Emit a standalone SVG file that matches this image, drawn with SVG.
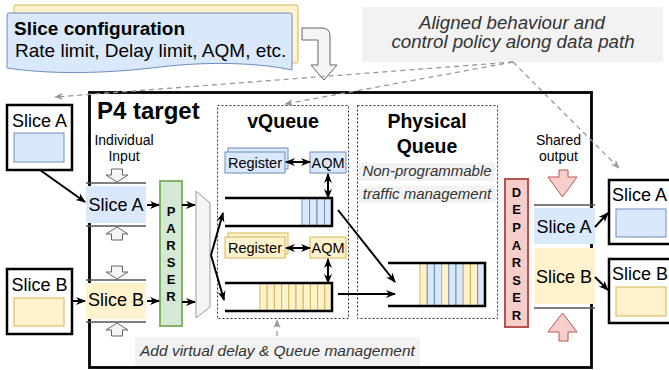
<svg xmlns="http://www.w3.org/2000/svg" width="669" height="370" viewBox="0 0 669 370">
<style>
text{font-family:"Liberation Sans",Arial,Helvetica,sans-serif;fill:#000}
.b{font-weight:bold}
.it{font-style:italic;fill:#333}
.c{text-anchor:middle}
.blue{fill:#dae8fc;stroke:#6c8ebf;stroke-width:1}
.yel{fill:#fff2cc;stroke:#d6b656;stroke-width:1}
.bluef{fill:#dae8fc}
.yelf{fill:#fff2cc}
.ext{fill:#fff;stroke:#000;stroke-width:2.5}
.ln{stroke:#000;stroke-width:2;fill:none}
.sep{stroke:#555;stroke-width:1.5}
.garr{fill:#f5f5f5;stroke:#666;stroke-width:1}
.rarr{fill:#f8cecc;stroke:#b85450;stroke-width:1}
.dash{stroke:#999;stroke-width:1.3;stroke-dasharray:5 4;fill:none}
.box{fill:none;stroke:#333;stroke-width:1;stroke-dasharray:2 2}
.q{fill:none;stroke:#000;stroke-width:2.5}
.lbl{fill:#f2f2f2}
</style>
<defs>
<marker id="ah" viewBox="0 0 10 10" refX="9" refY="5" markerWidth="10" markerHeight="10" markerUnits="userSpaceOnUse" orient="auto-start-reverse"><path d="M0,1 L10,5 L0,9 L3,5 z" fill="#000"/></marker>
<marker id="gh" viewBox="0 0 10 10" refX="9" refY="5" markerWidth="9" markerHeight="9" markerUnits="userSpaceOnUse" orient="auto"><path d="M0,1 L10,5 L0,9 L3,5 z" fill="#999"/></marker>
<path id="gdn" d="M-5.5,0 H5.5 V6 H11 L0,13 L-11,6 H-5.5 Z"/>
<path id="gup" d="M-5.5,13 H5.5 V7 H11 L0,0 L-11,7 H-5.5 Z"/>
</defs>

<g id="slice-config">
<rect x="14" y="5" width="284" height="58" rx="2" class="yel"/>
<path d="M9,13 H290 Q292,13 292,15 V70 C260,63 210,61 160,67 C120,72 60,76 7,68 V15 Q7,13 9,13 Z" class="blue"/>
<text x="14" y="35" class="b" font-size="19">Slice configuration</text>
<text x="15" y="57" font-size="19">Rate limit, Delay limit, AQM, etc.</text>
</g>
<g id="config-arrow">
<path d="M302,28 H322 Q330,28 330,36 V65 H337 L324,80 L311,65 H318 V40 H302 Z" class="garr"/>
</g>

<g id="aligned-label">
<rect x="362" y="7" width="301" height="55" class="lbl"/>
<text x="512" y="29" class="it c" font-size="18.7">Aligned behaviour and</text>
<text x="513" y="48" class="it c" font-size="18.7">control policy along data path</text>
</g>

<g id="p4-target">
<rect x="89.5" y="92.5" width="502" height="275" fill="#fff" stroke="#000" stroke-width="2.8"/>
<text x="97" y="119" class="b" font-size="24">P4 target</text>
<text x="124" y="145" class="c" font-size="14">Individual</text>
<text x="124" y="161" class="c" font-size="14">Input</text>
<text x="558.5" y="145" class="c" font-size="14">Shared</text>
<text x="558.5" y="161" class="c" font-size="14">output</text>
</g>

<g id="vqueue">
<rect x="217.5" y="105.5" width="131" height="213" class="box"/>
<text x="283" y="128" class="b c" font-size="19.5">vQueue</text>
</g>
<g id="physical-queue">
<rect x="357.5" y="105.5" width="140" height="213" class="box"/>
<text x="427" y="128" class="b c" font-size="19.5">Physical</text>
<text x="427" y="153" class="b c" font-size="19.5">Queue</text>
<rect x="359" y="163" width="136" height="18" class="lbl"/>
<rect x="359" y="186" width="136" height="17" class="lbl"/>
<text x="427" y="176" class="it c" font-size="15">Non-programmable</text>
<text x="427" y="199" class="it c" font-size="15">traffic management</text>
</g>

<g id="add-virtual-label">
<rect x="135" y="337" width="285" height="29" class="lbl"/>
<text x="140" y="356" class="it" font-size="15.5">Add virtual delay &amp; Queue management</text>
</g>

<g id="ext-slice-a-in">
<rect x="7" y="105" width="65" height="65" class="ext"/>
<text x="39.5" y="127" class="c" font-size="18">Slice A</text>
<rect x="14" y="133" width="50" height="29" class="blue"/>
</g>
<g id="ext-slice-b-in">
<rect x="7" y="269" width="65" height="65" class="ext"/>
<text x="39.5" y="291" class="c" font-size="18">Slice B</text>
<rect x="14" y="298" width="50" height="28" class="yel"/>
</g>

<g id="in-slice-a">
<line x1="86" y1="183" x2="146" y2="183" class="sep"/>
<rect x="86" y="186" width="60" height="37" class="bluef"/>
<line x1="86" y1="226" x2="146" y2="226" class="sep"/>
<text x="116" y="211" class="c" font-size="18">Slice A</text>
<use href="#gdn" x="117" y="169" class="garr"/>
<use href="#gup" x="117" y="227" class="garr"/>
</g>
<g id="in-slice-b">
<line x1="86" y1="280" x2="146" y2="280" class="sep"/>
<rect x="86" y="283" width="60" height="36" class="yelf"/>
<line x1="86" y1="322" x2="146" y2="322" class="sep"/>
<text x="116" y="306" class="c" font-size="18">Slice B</text>
<use href="#gdn" x="117" y="266" class="garr"/>
<use href="#gup" x="117" y="323" class="garr"/>
</g>

<g id="parser">
<rect x="160" y="181" width="22" height="145" fill="#d5e8d4" stroke="#82b366" stroke-width="2"/>
<g class="b c" font-size="13">
<text x="171" y="215.5" class="b c">P</text>
<text x="171" y="233" class="b c">A</text>
<text x="171" y="250" class="b c">R</text>
<text x="171" y="267" class="b c">S</text>
<text x="171" y="284" class="b c">E</text>
<text x="171" y="301" class="b c">R</text>
</g>
</g>

<g id="demux">
<path d="M196,191 L210,203 V307 L196,318 Z" fill="#f5f5f5" stroke="#999" stroke-width="1"/>
</g>

<g id="register-a">
<rect x="228" y="148" width="60" height="21" class="blue"/>
<rect x="225" y="152" width="60" height="21" class="blue"/>
<text x="255" y="167.5" class="c" font-size="14.5">Register</text>
</g>
<g id="aqm-a">
<rect x="310" y="152" width="36" height="21" class="blue"/>
<text x="328" y="167.5" class="c" font-size="14.5">AQM</text>
</g>
<g id="queue-a">
<rect x="302" y="198" width="7.5" height="28" class="blue"/>
<rect x="309.5" y="198" width="7.5" height="28" class="blue"/>
<rect x="317" y="198" width="7.5" height="28" class="blue"/>
<rect x="324.5" y="198" width="7.5" height="28" class="blue"/>
<path d="M225,198 H332 V226 H225" class="q"/>
</g>

<g id="register-b">
<rect x="228" y="233" width="60" height="21" class="yel"/>
<rect x="225" y="237" width="60" height="21" class="yel"/>
<text x="255" y="252.5" class="c" font-size="14.5">Register</text>
</g>
<g id="aqm-b">
<rect x="310" y="237" width="36" height="21" class="yel"/>
<text x="328" y="252.5" class="c" font-size="14.5">AQM</text>
</g>
<g id="queue-b">
<rect x="260" y="283" width="7.2" height="28" class="yel"/>
<rect x="267.2" y="283" width="7.2" height="28" class="yel"/>
<rect x="274.4" y="283" width="7.2" height="28" class="yel"/>
<rect x="281.6" y="283" width="7.2" height="28" class="yel"/>
<rect x="288.8" y="283" width="7.2" height="28" class="yel"/>
<rect x="296" y="283" width="7.2" height="28" class="yel"/>
<rect x="303.2" y="283" width="7.2" height="28" class="yel"/>
<rect x="310.4" y="283" width="7.2" height="28" class="yel"/>
<rect x="317.6" y="283" width="7.2" height="28" class="yel"/>
<rect x="324.8" y="283" width="7.2" height="28" class="yel"/>
<path d="M225,283 H332 V311 H225" class="q"/>
</g>

<g id="physical-queue-shape">
<rect x="420" y="263" width="7.2" height="43" class="yel"/>
<rect x="427.2" y="263" width="7.2" height="43" class="blue"/>
<rect x="434.4" y="263" width="7.2" height="43" class="blue"/>
<rect x="441.6" y="263" width="7.2" height="43" class="yel"/>
<rect x="448.8" y="263" width="7.2" height="43" class="blue"/>
<rect x="456" y="263" width="7.2" height="43" class="blue"/>
<rect x="463.2" y="263" width="7.2" height="43" class="yel"/>
<rect x="470.4" y="263" width="7.2" height="43" class="yel"/>
<rect x="477.6" y="263" width="7.4" height="43" class="blue"/>
<path d="M388,263 H485 V306 H388" class="q"/>
</g>

<g id="deparser">
<rect x="505" y="179" width="23" height="148" fill="#f8cecc" stroke="#b85450" stroke-width="2"/>
<text x="516.5" y="196.5" class="b c" font-size="13">D</text>
<text x="516.5" y="214" class="b c" font-size="13">E</text>
<text x="516.5" y="231.5" class="b c" font-size="13">P</text>
<text x="516.5" y="249.5" class="b c" font-size="13">A</text>
<text x="516.5" y="267" class="b c" font-size="13">R</text>
<text x="516.5" y="284.5" class="b c" font-size="13">S</text>
<text x="516.5" y="302" class="b c" font-size="13">E</text>
<text x="516.5" y="320" class="b c" font-size="13">R</text>
</g>

<g id="out-slices">
<path d="M559,170 H568 V177 H577 L562.5,197 L548,177 H559 Z" class="rarr"/>
<line x1="534" y1="205" x2="595" y2="205" class="sep"/>
<rect x="534" y="208" width="61" height="36" class="bluef"/>
<text x="564" y="233" class="c" font-size="18">Slice A</text>
<rect x="534" y="248" width="61" height="56" class="yelf"/>
<text x="564" y="283" class="c" font-size="18">Slice B</text>
<line x1="534" y1="308" x2="595" y2="308" class="sep"/>
<path d="M559,341 H568 V332 H577 L562.5,313 L548,332 H559 Z" class="rarr"/>
</g>

<g id="ext-slice-a-out">
<rect x="609" y="180" width="66" height="64" class="ext"/>
<text x="612" y="201" font-size="18">Slice A</text>
<rect x="616" y="209" width="50" height="28" class="blue"/>
</g>
<g id="ext-slice-b-out">
<rect x="609" y="259" width="66" height="64" class="ext"/>
<text x="612" y="280" font-size="18">Slice B</text>
<rect x="616" y="287" width="50" height="29" class="yel"/>
</g>

<g id="connectors">
<line x1="40" y1="170" x2="85" y2="202" class="ln" marker-end="url(#ah)"/>
<line x1="72" y1="301" x2="85" y2="301" class="ln" marker-end="url(#ah)"/>
<line x1="147" y1="205" x2="159" y2="205" class="ln" marker-end="url(#ah)"/>
<line x1="147" y1="301" x2="159" y2="301" class="ln" marker-end="url(#ah)"/>
<line x1="182" y1="205" x2="195" y2="205" class="ln" marker-end="url(#ah)"/>
<line x1="182" y1="302" x2="195" y2="302" class="ln" marker-end="url(#ah)"/>
<line x1="211" y1="255" x2="223" y2="213" class="ln" marker-end="url(#ah)"/>
<line x1="211" y1="255" x2="224" y2="300" class="ln" marker-end="url(#ah)"/>
<line x1="286" y1="162" x2="310" y2="162" class="ln" marker-start="url(#ah)" marker-end="url(#ah)"/>
<line x1="286" y1="248" x2="310" y2="248" class="ln" marker-start="url(#ah)" marker-end="url(#ah)"/>
<line x1="328" y1="174" x2="328" y2="198" class="ln" marker-start="url(#ah)" marker-end="url(#ah)"/>
<line x1="328" y1="259" x2="328" y2="283" class="ln" marker-start="url(#ah)" marker-end="url(#ah)"/>
<line x1="338" y1="210" x2="395" y2="282" class="ln" marker-end="url(#ah)"/>
<line x1="338" y1="294" x2="395" y2="294" class="ln" marker-end="url(#ah)"/>
<line x1="595" y1="227" x2="608" y2="213" class="ln" marker-end="url(#ah)"/>
<line x1="595" y1="277" x2="608" y2="290" class="ln" marker-end="url(#ah)"/>
<line x1="513" y1="62" x2="55" y2="97" class="dash" marker-end="url(#gh)"/>
<line x1="513" y1="62" x2="285" y2="104" class="dash" marker-end="url(#gh)"/>
<line x1="513" y1="62" x2="619" y2="168" class="dash" marker-end="url(#gh)"/>
<line x1="277" y1="336" x2="277" y2="320" class="dash" marker-end="url(#gh)"/>
</g>
</svg>
